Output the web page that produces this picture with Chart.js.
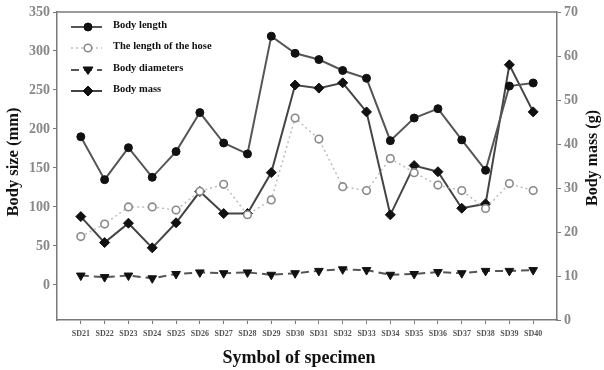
<!DOCTYPE html>
<html>
<head>
<meta charset="utf-8">
<script src="https://cdn.jsdelivr.net/npm/chart.js@4.4.0/dist/chart.umd.min.js"></script>
<style>
  html, body { margin: 0; padding: 0; background: #fff; }
  #wrap { width: 604px; height: 370px; position: relative; }
</style>
</head>
<body>
<div id="wrap"><canvas id="chart"></canvas></div>
<script>
const specimens = ['SD21', 'SD22', 'SD23', 'SD24', 'SD25', 'SD26', 'SD27', 'SD28', 'SD29', 'SD30',
                   'SD31', 'SD32', 'SD33', 'SD34', 'SD35', 'SD36', 'SD37', 'SD38', 'SD39', 'SD40'];
const bodyLength   = [190, 135, 176, 138, 171, 221, 182, 168, 319, 297, 289, 275, 265, 185, 214, 226, 186, 147, 255, 259];
const hoseLength   = [62, 78, 100, 100, 96, 120, 129, 90, 109, 214, 187, 126, 121, 162, 144, 128, 121, 98, 130, 121];
const bodyDiameter = [12, 10, 12, 8.5, 14, 16, 15, 16, 13, 15, 18, 20, 19, 13, 14, 16.5, 15, 18, 18, 19];
const bodyMass     = [23.5, 17.6, 22.0, 16.4, 22.1, 29.2, 24.2, 24.2, 33.5, 53.4, 52.7, 53.9, 47.3, 23.9, 35.1, 33.7, 25.4, 26.4, 58.0, 47.3];
const sizeTicks = [0, 50, 100, 150, 200, 250, 300, 350];
const massTicks = [0, 10, 20, 30, 40, 50, 60, 70];

const SERIF = '"Liberation Serif", "Times New Roman", serif';
const AXIS = '#7a7a7a';

// specimen number on a linear x axis so there is one empty slot at each end
const pts = arr => arr.map((v, i) => ({ x: 21 + i, y: v }));

const series = [
    { label: 'Body length', data: pts(bodyLength), yAxisID: 'y', borderColor: '#555', borderWidth: 2,
      pointStyle: 'circle', pointRadius: 4, pointBackgroundColor: '#111', pointBorderColor: '#111', pointBorderWidth: 1, dash: [] },
    { label: 'The length of the hose', data: pts(hoseLength), yAxisID: 'y', borderColor: '#bdbdbd', borderWidth: 1.5,
      pointStyle: 'circle', pointRadius: 3.8, pointBackgroundColor: '#fff', pointBorderColor: '#8a8a8a', pointBorderWidth: 1.6, dash: [2, 3] },
    { label: 'Body diameters', data: pts(bodyDiameter), yAxisID: 'y', borderColor: '#555', borderWidth: 2,
      pointStyle: 'triangle', rotation: 180, pointRadius: 5, pointBackgroundColor: '#111', pointBorderColor: '#111', pointBorderWidth: 1, dash: [8, 5] },
    { label: 'Body mass', data: pts(bodyMass), yAxisID: 'y1', borderColor: '#444', borderWidth: 2,
      pointStyle: 'rectRot', pointRadius: 5, pointBackgroundColor: '#111', pointBorderColor: '#111', pointBorderWidth: 1, dash: [] }
];

const datasets = series.map(s => ({
    label: s.label, data: s.data, yAxisID: s.yAxisID,
    borderColor: s.borderColor, borderWidth: s.borderWidth, borderDash: s.dash,
    pointStyle: s.pointStyle, pointRotation: s.rotation || 0, pointRadius: s.pointRadius,
    pointBackgroundColor: s.pointBackgroundColor, pointBorderColor: s.pointBorderColor,
    pointBorderWidth: s.pointBorderWidth, tension: 0, fill: false, clip: false
}));

function drawMarker(ctx, s, x, y) {
    const r = s.pointRadius;
    ctx.save();
    ctx.fillStyle = s.pointBackgroundColor;
    ctx.strokeStyle = s.pointBorderColor;
    ctx.lineWidth = s.pointBorderWidth;
    ctx.setLineDash([]);
    ctx.beginPath();
    if (s.pointStyle === 'circle') {
        ctx.arc(x, y, r, 0, Math.PI * 2);
    } else if (s.pointStyle === 'triangle') {
        ctx.moveTo(x - r, y - r * 0.6);
        ctx.lineTo(x + r, y - r * 0.6);
        ctx.lineTo(x, y + r * 0.9);
        ctx.closePath();
    } else {
        ctx.moveTo(x, y - r);
        ctx.lineTo(x + r, y);
        ctx.lineTo(x, y + r);
        ctx.lineTo(x - r, y);
        ctx.closePath();
    }
    ctx.fill();
    ctx.stroke();
    ctx.restore();
}

const decor = {
    id: 'decor',
    afterDraw(chart) {
        const ctx = chart.ctx;
        const a = chart.chartArea;
        ctx.save();
        // frame
        ctx.strokeStyle = AXIS;
        ctx.lineWidth = 1.5;
        ctx.beginPath();
        ctx.moveTo(a.left, a.top);
        ctx.lineTo(a.right, a.top);
        ctx.stroke();

        // legend
        const rows = [27, 48, 70, 91];
        series.forEach((s, i) => {
            const y = rows[i];
            ctx.strokeStyle = s.borderColor;
            ctx.lineWidth = s.borderWidth;
            ctx.setLineDash(s.dash);
            ctx.beginPath();
            ctx.moveTo(71, y);
            ctx.lineTo(102, y);
            ctx.stroke();
            drawMarker(ctx, s, 88, y);
            ctx.fillStyle = '#111';
            ctx.font = 'bold 10.5px ' + SERIF;
            ctx.textAlign = 'left';
            ctx.textBaseline = 'middle';
            ctx.fillText(s.label, 113, y - 2);
        });

        // axis titles
        ctx.fillStyle = '#111';
        ctx.textAlign = 'center';
        ctx.textBaseline = 'middle';
        ctx.font = 'bold 18px ' + SERIF;
        ctx.fillText('Symbol of specimen', 299, 358);

        ctx.save();
        ctx.translate(14, 162);
        ctx.rotate(-Math.PI / 2);
        ctx.font = 'bold 16.5px ' + SERIF;
        ctx.fillText('Body size (mm)', 0, 0);
        ctx.restore();

        ctx.save();
        ctx.translate(593, 158);
        ctx.rotate(-Math.PI / 2);
        ctx.font = 'bold 16px ' + SERIF;
        ctx.fillText('Body mass (g)', 0, 0);
        ctx.restore();

        ctx.restore();
    }
};

new Chart(document.getElementById('chart'), {
    type: 'line',
    data: { datasets },
    options: {
        responsive: true,
        maintainAspectRatio: false,
        animation: false,
        devicePixelRatio: 1,
        layout: { padding: { top: 12, left: 0, right: 0, bottom: 0 } },
        plugins: { legend: { display: false }, tooltip: { enabled: false } },
        scales: {
            x: {
                type: 'linear', min: 20, max: 41,
                afterBuildTicks: s => { s.ticks = specimens.map((_, i) => ({ value: 21 + i })); },
                afterFit: s => { s.height = 50; },
                ticks: {
                    autoSkip: false, maxRotation: 0, padding: 5,
                    color: '#555', font: { family: SERIF, size: 8, weight: 'bold' },
                    callback: v => specimens[v - 21] || ''
                },
                grid: { drawOnChartArea: false, drawTicks: true, tickLength: 4, color: AXIS },
                border: { display: true, color: AXIS, width: 1.5 }
            },
            y: {
                position: 'left', min: -45, max: 350,
                afterBuildTicks: s => { s.ticks = sizeTicks.map(v => ({ value: v })); },
                afterFit: s => { s.width = 57; },
                ticks: { padding: 3, color: '#888', font: { family: SERIF, size: 14, weight: 'bold' } },
                grid: { drawOnChartArea: false, drawTicks: true, tickLength: 4, color: AXIS },
                border: { display: true, color: AXIS, width: 1.5 }
            },
            y1: {
                position: 'right', min: 0, max: 70,
                afterBuildTicks: s => { s.ticks = massTicks.map(v => ({ value: v })); },
                afterFit: s => { s.width = 47; },
                ticks: { padding: 3, color: '#888', font: { family: SERIF, size: 14, weight: 'bold' } },
                grid: { drawOnChartArea: false, drawTicks: true, tickLength: 4, color: AXIS },
                border: { display: true, color: AXIS, width: 1.5 }
            }
        }
    },
    plugins: [decor]
});
</script>
</body>
</html>
